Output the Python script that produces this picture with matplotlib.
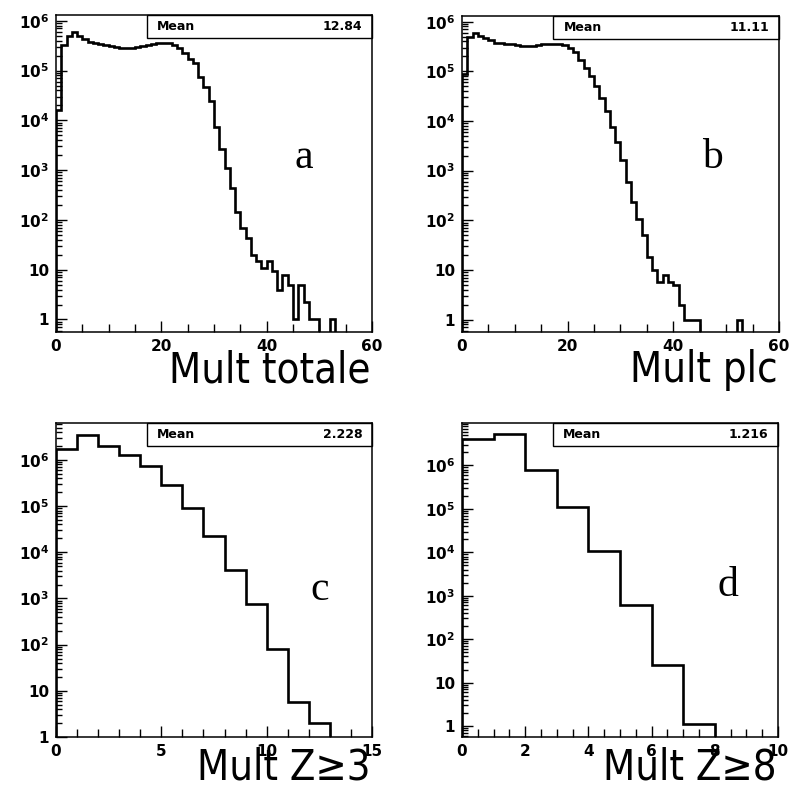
import matplotlib
matplotlib.use('Agg')
import matplotlib.pyplot as plt
import numpy as np
from matplotlib import font_manager
from matplotlib.ticker import MultipleLocator, LogLocator, FuncFormatter, NullFormatter

# bin contents (unit-width bins starting at 0)
mult_totale = [1.6e4, 3.2e5, 5.0e5, 5.9e5, 5.0e5, 4.3e5, 3.8e5, 3.6e5, 3.4e5, 3.2e5,
               3.1e5, 3.0e5, 2.9e5, 2.8e5, 2.9e5, 3.0e5, 3.1e5, 3.2e5, 3.4e5, 3.5e5,
               3.6e5, 3.5e5, 3.2e5, 2.8e5, 2.3e5, 1.7e5, 1.4e5, 7.4e4, 4.6e4, 2.5e4,
               7.4e3, 2.7e3, 1.1e3, 430, 146, 68, 43, 20, 15, 10.8,
               15, 9.3, 4, 8, 5, 1, 5, 2.2, 1, 1,
               0, 0, 1, 0, 0, 0, 0, 0, 0, 0]
mult_plc = [9.0e4, 5.0e5, 5.8e5, 5.2e5, 4.6e5, 4.2e5, 3.8e5, 3.7e5, 3.6e5, 3.5e5,
            3.4e5, 3.2e5, 3.2e5, 3.3e5, 3.4e5, 3.5e5, 3.6e5, 3.6e5, 3.6e5, 3.4e5,
            3.0e5, 2.4e5, 1.7e5, 1.16e5, 7.9e4, 5.0e4, 2.9e4, 1.6e4, 7.4e3, 3.7e3,
            1.6e3, 580, 230, 108, 50, 18.5, 10, 5.8, 8, 5.8,
            5, 2, 1, 1, 1, 0, 0, 0, 0, 0,
            0, 0, 1, 0, 0, 0, 0, 0, 0, 0]
mult_z3 = [1.7e6, 3.5e6, 2.0e6, 1.3e6, 7.2e5, 2.9e5, 9.2e4, 2.2e4, 4.2e3, 740,
           81, 5.6, 2, 0, 0]
mult_z8 = [4.1e6, 5.2e6, 8.0e5, 1.1e5, 1.05e4, 620, 25, 1.1, 0, 0]

means = ['12.84', '11.11', '2.228', '1.216']
xlabels = ['Mult totale', 'Mult plc', 'Mult Z\u22653', 'Mult Z\u22658']
letters = ['a', 'b', 'c', 'd']

# look for an upright narrow sans face for the big axis titles
narrow_file = None
for f in font_manager.fontManager.ttflist:
    nm = f.name.lower()
    if ('narrow' in nm or 'condensed' in nm or f.stretch in ('condensed', 'semi-condensed')) \
            and 'serif' not in nm and 'mono' not in nm and f.style == 'normal' \
            and f.weight in (400, 'normal', 'regular') and 'italic' not in f.fname.lower():
        narrow_file = f.fname
        break
if narrow_file is not None:
    label_font = dict(fontproperties=font_manager.FontProperties(fname=narrow_file, size=30))
else:
    label_font = dict(fontsize=27, family='DejaVu Sans')

plt.rcParams['mathtext.fontset'] = 'dejavusans'
plt.rcParams['font.family'] = ['DejaVu Sans']

fig = plt.figure(figsize=(7.93, 7.93), dpi=100)

panels = [
    dict(data=mult_totale, rect=[0.0706, 0.5813, 0.3985, 0.3997], xmax=60, major=20, minor=5,
         ylim=(0.56, 1.3e6), letter_pos=(0.785, 0.517), label_y=-0.158),
    dict(data=mult_plc, rect=[0.5826, 0.5813, 0.3997, 0.3985], xmax=60, major=20, minor=5,
         ylim=(0.56, 1.3e6), letter_pos=(0.79, 0.52), label_y=-0.158),
    dict(data=mult_z3, rect=[0.0706, 0.0706, 0.3985, 0.396], xmax=15, major=5, minor=1,
         ylim=(1.0, 6.3e6), letter_pos=(0.835, 0.436), label_y=-0.135),
    dict(data=mult_z8, rect=[0.5826, 0.0706, 0.3985, 0.396], xmax=10, major=2, minor=0.5,
         ylim=(0.56, 9.5e6), letter_pos=(0.84, 0.45), label_y=-0.135),
]


def ylab(v, pos):
    e = int(round(np.log10(v)))
    if e == 0:
        return '1'
    if e == 1:
        return '10'
    return r'$\mathbf{10^{%d}}$' % e


for i, p in enumerate(panels):
    ax = fig.add_axes(p['rect'])
    vals = np.array(p['data'], dtype=float)
    edges = np.arange(len(vals) + 1)
    vals = np.where(vals > 0, vals, 1e-3)
    ax.stairs(vals, edges, baseline=1e-3, color='black', lw=1.9)
    ax.set_yscale('log')
    ax.set_xlim(0, p['xmax'])
    ax.set_ylim(*p['ylim'])

    for s in ax.spines.values():
        s.set_linewidth(1.1)

    ax.xaxis.set_major_locator(MultipleLocator(p['major']))
    ax.xaxis.set_minor_locator(MultipleLocator(p['minor']))
    ax.yaxis.set_major_locator(LogLocator(base=10, numticks=20))
    ax.yaxis.set_minor_locator(LogLocator(base=10, subs=np.arange(2, 10), numticks=20))
    ax.yaxis.set_major_formatter(FuncFormatter(ylab))
    ax.yaxis.set_minor_formatter(NullFormatter())
    ax.tick_params(which='both', direction='in', top=False, right=False, width=1.0)
    ax.tick_params(which='major', length=8, labelsize=11, pad=5)
    ax.tick_params(which='minor', length=4.5)
    ax.tick_params(axis='x', which='minor', length=5.5)
    for lab in ax.get_xticklabels() + ax.get_yticklabels():
        lab.set_fontweight('bold')

    # stat box with the mean
    ax.add_patch(plt.Rectangle((0.288, 0.928), 0.712, 0.072, transform=ax.transAxes,
                               fill=False, lw=1.0, ec='black', clip_on=False))
    ax.text(0.32, 0.964, 'Mean', transform=ax.transAxes, ha='left', va='center',
            fontsize=9, fontweight='bold')
    ax.text(0.97, 0.964, means[i], transform=ax.transAxes, ha='right', va='center',
            fontsize=9, fontweight='bold')

    ax.text(p['letter_pos'][0], p['letter_pos'][1], letters[i], transform=ax.transAxes,
            ha='center', va='baseline', fontsize=30, family='Liberation Serif')
    ax.text(0.995, p['label_y'], xlabels[i], transform=ax.transAxes, ha='right',
            va='baseline', **label_font)

fig.savefig('out.png', dpi=100)
